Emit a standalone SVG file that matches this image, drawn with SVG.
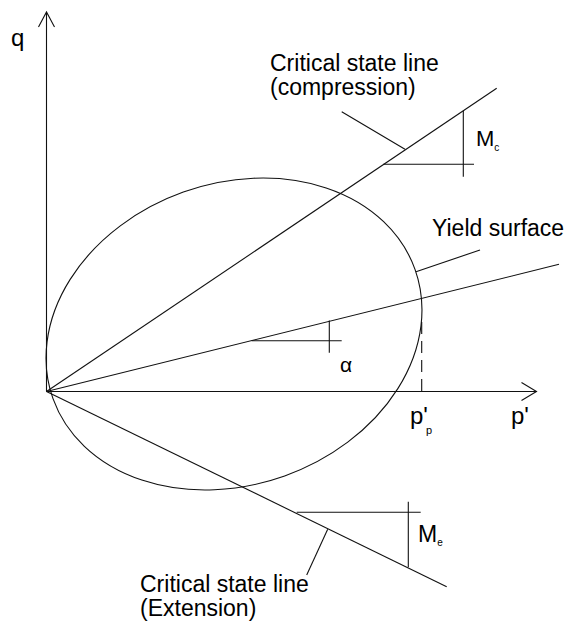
<svg xmlns="http://www.w3.org/2000/svg" width="566" height="630" viewBox="0 0 566 630">
<style>
.ln{fill:none;stroke:#111;stroke-width:1.1}
.t{font-family:"Liberation Sans",Arial,sans-serif;fill:#000}
.big{font-size:23px}
.sub{font-size:10px}
</style>
<rect width="566" height="630" fill="#fff"/>
<g id="axes" class="ln">
<path d="M46.5 391.5 V12 M38.5 27 L46.5 12 L54.5 27"/>
<path d="M46.5 391.5 H536.5 M521.5 382.5 L536.5 391.5 L521.5 400.5"/>
</g>
<g id="yield-surface">
<ellipse class="ln" cx="234" cy="334" rx="192.2" ry="150.7" transform="rotate(-19.65 234 334)"/>
<path class="ln" d="M421.7 322 V391.5" stroke-dasharray="12 7"/>
</g>
<g id="connectors" class="ln">
<path d="M46.5 391.5 L496.7 88.3"/>
<path d="M383.3 164.3 H474 M463.3 110.7 V176.7"/>
<path d="M341.7 111.7 L405 149.3"/>
<path d="M46.5 391.5 L446.7 586.7"/>
<path d="M296.7 512.3 H420.7 M408.3 501.7 V567.3"/>
<path d="M306.7 575 L327.7 529.3"/>
<path d="M46.5 391.5 L559 264.3"/>
<path d="M251.7 340.7 H341.7 M329.3 320.5 V352.7"/>
<path d="M416 271.7 L480 250"/>
</g>
<g id="labels">
<text class="t" x="11" y="46" font-size="24">q</text>
<text class="t big" x="270" y="71">Critical state line</text>
<text class="t big" x="270" y="95">(compression)</text>
<text class="t big" x="432" y="236">Yield surface</text>
<text class="t big" x="140" y="592">Critical state line</text>
<text class="t big" x="140" y="616">(Extension)</text>
<text class="t" x="476" y="146" font-size="22">M<tspan class="sub" dy="5">c</tspan></text>
<text class="t" x="418" y="541.5" font-size="23">M<tspan class="sub" font-size="11" dy="4.5">e</tspan></text>
<text class="t" x="340" y="372" font-size="21">α</text>
<text class="t" x="410" y="424" font-size="24">p'<tspan font-size="11" dx="-2" dy="10">p</tspan></text>
<text class="t" x="511" y="424" font-size="24">p'</text>
</g>
</svg>
